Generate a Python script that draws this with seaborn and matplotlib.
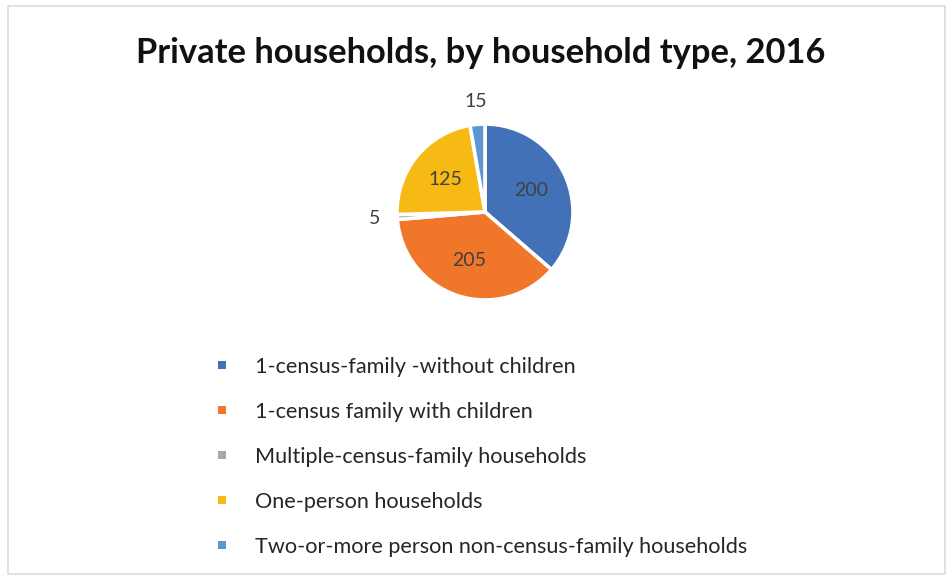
import matplotlib
matplotlib.use("Agg")
import matplotlib.pyplot as plt
from matplotlib.lines import Line2D
from matplotlib.patches import Rectangle
import numpy as np
import seaborn as sns

categories = [
    "1-census-family -without children",
    "1-census family with children",
    "Multiple-census-family households",
    "One-person households",
    "Two-or-more person non-census-family households",
]
counts = [200, 205, 5, 125, 15]
colors = ["#4371b8", "#f0762a", "#a8a8a8", "#f7b913", "#5b98d2"]
title = "Private households, by household type, 2016"

sns.set_theme(style="white")
plt.rcParams["font.family"] = ["Lato", "DejaVu Sans"]

W, H = 947, 577
fig = plt.figure(figsize=(W / 100, H / 100), dpi=100)
fig.patch.set_facecolor("white")

# light frame round the chart area
fig.add_artist(Rectangle((8 / W, 3 / H), (W - 10) / W, (H - 9) / H,
                         transform=fig.transFigure, fill=False,
                         edgecolor="#dcdcdc", linewidth=1.2))

cx, cy, r = 485, 212, 88
ax = fig.add_axes([(cx - r) / W, (H - cy - r) / H, 2 * r / W, 2 * r / H])
wedges, _ = ax.pie(counts, colors=colors, startangle=90, counterclock=False,
                   radius=1.0,
                   wedgeprops=dict(edgecolor="white", linewidth=2.6))
ax.set_xlim(-1, 1)
ax.set_ylim(-1, 1)
ax.set_aspect("equal")
ax.axis("off")

# value labels: inside for large slices, outside for thin ones
for w, v in zip(wedges, counts):
    ang = np.deg2rad((w.theta1 + w.theta2) / 2)
    frac = v / sum(counts)
    d = 0.58 if frac > 0.1 else 1.26
    ax.text(d * np.cos(ang), d * np.sin(ang), f"{v}", ha="center",
            va="center", fontsize=14, color="#404040", clip_on=False)

fig.text(481 / W, 1 - 53 / H, title, ha="center", va="center",
         fontsize=24.8, fontweight="bold", color="#111111")

handles = [Line2D([], [], linestyle="none", marker="s", markersize=6,
                  markerfacecolor=w.get_facecolor(), markeredgewidth=0)
           for w in wedges]
leg = fig.legend(handles, categories, loc="upper left",
                 bbox_to_anchor=(213 / W, 1 - 357 / H), frameon=False,
                 fontsize=15.6, labelspacing=1.15, handlelength=0.8,
                 handletextpad=1.15, borderaxespad=0, borderpad=0)
for t in leg.get_texts():
    t.set_color("#262626")

fig.savefig("out.png", dpi=100, facecolor="white")
